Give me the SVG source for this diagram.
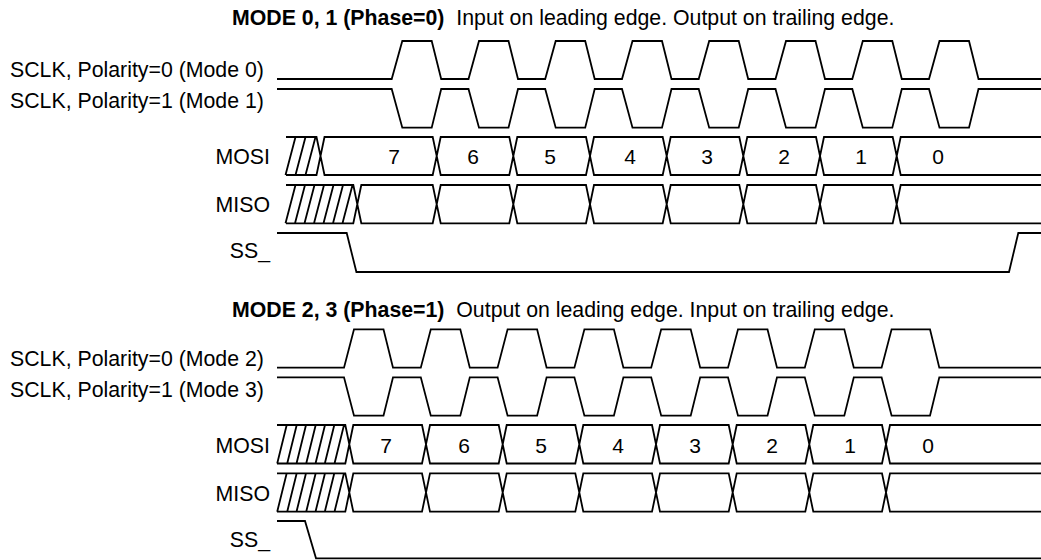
<svg xmlns="http://www.w3.org/2000/svg" width="1041" height="560" viewBox="0 0 1041 560">
<style>
.w{fill:none;stroke:#000;stroke-width:1.8;stroke-linejoin:miter}
.t{font-family:"Liberation Sans",Arial,sans-serif;font-size:21.3px;fill:#000}
.b{font-weight:bold}
.d{font-family:"Liberation Sans",Arial,sans-serif;font-size:21px;fill:#000;text-anchor:middle}
.e{text-anchor:end}
</style>
<rect width="1041" height="560" fill="#fff"/>
<g id="title1"><text class="t" x="232" y="25" xml:space="preserve"><tspan class="b">MODE 0, 1 (Phase=0)</tspan>  Input on leading edge. Output on trailing edge.</text></g>
<g id="sclk0">
<text class="t" x="10" y="77">SCLK, Polarity=0 (Mode 0)</text>
<path class="w" d="M277,79 H391.7 L402.3,41 H431.7 L441.2,79 H468.5 L479,41 H508.5 L518,79 H545.2 L555.7,41 H585.2 L594.7,79 H622 L632.5,41 H662 L671.5,79 H698.7 L709.2,41 H738.7 L748.2,79 H775.5 L786,41 H815.5 L825,79 H852.3 L862.8,41 H892.3 L901.8,79 H929 L939.5,41 H969 L978.5,79 H1041"/>
</g>
<g id="sclk1">
<text class="t" x="10" y="108">SCLK, Polarity=1 (Mode 1)</text>
<path class="w" d="M277,89 H391.7 L402.3,127.7 H431.7 L441.2,89 H468.5 L479,127.7 H508.5 L518,89 H545.2 L555.7,127.7 H585.2 L594.7,89 H622 L632.5,127.7 H662 L671.5,89 H698.7 L709.2,127.7 H738.7 L748.2,89 H775.5 L786,127.7 H815.5 L825,89 H852.3 L862.8,127.7 H892.3 L901.8,89 H929 L939.5,127.7 H969 L978.5,89 H1041"/>
</g>
<g id="mosi1">
<text class="t e" x="270" y="164">MOSI</text>
<path class="w" d="M286,137 H316.5 L320.5,156 L316.5,175 H286 M285.5,175 L295.5,137 M295.5,175 L305.5,137 M305.5,175 L315.5,137
M324.5,137 H432.7 L436.7,156 L432.7,175 H324.5 L320.5,156 Z
M440.7,137 H509.3 L513.3,156 L509.3,175 H440.7 L436.7,156 Z
M517.3,137 H586 L590,156 L586,175 H517.3 L513.3,156 Z
M594,137 H662.7 L666.7,156 L662.7,175 H594 L590,156 Z
M670.7,137 H739.3 L743.3,156 L739.3,175 H670.7 L666.7,156 Z
M747.3,137 H816 L820,156 L816,175 H747.3 L743.3,156 Z
M824,137 H892.7 L896.7,156 L892.7,175 H824 L820,156 Z
M1041,137 H900.7 L896.7,156 L900.7,175 H1041"/>
<text class="d" x="394" y="164">7</text><text class="d" x="473" y="164">6</text><text class="d" x="550" y="164">5</text><text class="d" x="630" y="164">4</text><text class="d" x="707" y="164">3</text><text class="d" x="784" y="164">2</text><text class="d" x="861" y="164">1</text><text class="d" x="938" y="164">0</text>
</g>
<g id="miso1">
<text class="t e" x="270" y="212">MISO</text>
<path class="w" d="M286,185 H353.3 L357.3,204.2 L353.3,223.3 H286 M285.5,223.3 L295.5,185 M295,223.3 L305,185 M304.5,223.3 L314.5,185 M314,223.3 L324,185 M323.5,223.3 L333.5,185 M333,223.3 L343,185 M342.5,223.3 L352.5,185
M361.3,185 H432.7 L436.7,204.2 L432.7,223.3 H361.3 L357.3,204.2 Z
M440.7,185 H509.3 L513.3,204.2 L509.3,223.3 H440.7 L436.7,204.2 Z
M517.3,185 H586 L590,204.2 L586,223.3 H517.3 L513.3,204.2 Z
M594,185 H662.7 L666.7,204.2 L662.7,223.3 H594 L590,204.2 Z
M670.7,185 H739.3 L743.3,204.2 L739.3,223.3 H670.7 L666.7,204.2 Z
M747.3,185 H816 L820,204.2 L816,223.3 H747.3 L743.3,204.2 Z
M824,185 H892.7 L896.7,204.2 L892.7,223.3 H824 L820,204.2 Z
M1041,185 H900.7 L896.7,204.2 L900.7,223.3 H1041"/>
</g>
<g id="ss1">
<text class="t e" x="270" y="258">SS_</text>
<path class="w" d="M277,233 H346.7 L356.4,272 H1009 L1018.3,233 H1041"/>
</g>
<g id="title2"><text class="t" x="232" y="317" xml:space="preserve"><tspan class="b">MODE 2, 3 (Phase=1)</tspan>  Output on leading edge. Input on trailing edge.</text></g>
<g id="sclk2">
<text class="t" x="10" y="366">SCLK, Polarity=0 (Mode 2)</text>
<path class="w" d="M277,367.7 H344 L354,329.3 H383.5 L393,367.7 H420.8 L430.8,329.3 H460.3 L469.8,367.7 H497.6 L507.6,329.3 H537.1 L546.6,367.7 H574.4 L584.4,329.3 H613.9 L623.4,367.7 H651.2 L661.2,329.3 H690.7 L700.2,367.7 H728 L738,329.3 H767.5 L777,367.7 H804.8 L814.8,329.3 H844.3 L853.8,367.7 H881.6 L891.6,329.3 H930 L939.3,367.7 H1041"/>
</g>
<g id="sclk3">
<text class="t" x="10" y="397">SCLK, Polarity=1 (Mode 3)</text>
<path class="w" d="M277,377.3 H344 L354,415.7 H383.5 L393,377.3 H420.8 L430.8,415.7 H460.3 L469.8,377.3 H497.6 L507.6,415.7 H537.1 L546.6,377.3 H574.4 L584.4,415.7 H613.9 L623.4,377.3 H651.2 L661.2,415.7 H690.7 L700.2,377.3 H728 L738,415.7 H767.5 L777,377.3 H804.8 L814.8,415.7 H844.3 L853.8,377.3 H881.6 L891.6,415.7 H930 L939.3,377.3 H1041"/>
</g>
<g id="mosi2">
<text class="t e" x="270" y="453">MOSI</text>
<path class="w" d="M277,425 H345.3 L349.3,444.2 L345.3,463.5 H277 M277.2,463.5 L286.7,425 M287.2,463.5 L296.7,425 M296.5,463.5 L306,425 M306.2,463.5 L315.7,425 M315.5,463.5 L325,425 M324.8,463.5 L334.3,425 M334.5,463.5 L344,425
M353.3,425 H422 L426,444.2 L422,463.5 H353.3 L349.3,444.2 Z
M430,425 H498.7 L502.7,444.2 L498.7,463.5 H430 L426,444.2 Z
M506.7,425 H575.3 L579.3,444.2 L575.3,463.5 H506.7 L502.7,444.2 Z
M583.3,425 H652 L656,444.2 L652,463.5 H583.3 L579.3,444.2 Z
M660,425 H728.7 L732.7,444.2 L728.7,463.5 H660 L656,444.2 Z
M736.7,425 H805.3 L809.3,444.2 L805.3,463.5 H736.7 L732.7,444.2 Z
M813.3,425 H882 L886,444.2 L882,463.5 H813.3 L809.3,444.2 Z
M1041,425 H890 L886,444.2 L890,463.5 H1041"/>
<text class="d" x="386" y="453">7</text><text class="d" x="464" y="453">6</text><text class="d" x="541" y="453">5</text><text class="d" x="618" y="453">4</text><text class="d" x="695" y="453">3</text><text class="d" x="772" y="453">2</text><text class="d" x="850" y="453">1</text><text class="d" x="928" y="453">0</text>
</g>
<g id="miso2">
<text class="t e" x="270" y="501">MISO</text>
<path class="w" d="M277,473.3 H345.3 L349.3,492.5 L345.3,511.7 H277 M277.2,511.7 L286.7,473.3 M287.2,511.7 L296.7,473.3 M296.5,511.7 L306,473.3 M306.2,511.7 L315.7,473.3 M315.5,511.7 L325,473.3 M324.8,511.7 L334.3,473.3 M334.5,511.7 L344,473.3
M353.3,473.3 H422 L426,492.5 L422,511.7 H353.3 L349.3,492.5 Z
M430,473.3 H498.7 L502.7,492.5 L498.7,511.7 H430 L426,492.5 Z
M506.7,473.3 H575.3 L579.3,492.5 L575.3,511.7 H506.7 L502.7,492.5 Z
M583.3,473.3 H652 L656,492.5 L652,511.7 H583.3 L579.3,492.5 Z
M660,473.3 H728.7 L732.7,492.5 L728.7,511.7 H660 L656,492.5 Z
M736.7,473.3 H805.3 L809.3,492.5 L805.3,511.7 H736.7 L732.7,492.5 Z
M813.3,473.3 H882 L886,492.5 L882,511.7 H813.3 L809.3,492.5 Z
M1041,473.3 H890 L886,492.5 L890,511.7 H1041"/>
</g>
<g id="ss2">
<text class="t e" x="270" y="547">SS_</text>
<path class="w" d="M277,521 H305 L316,558.3 H1041"/>
</g>
<g id="connectors"></g>
</svg>
